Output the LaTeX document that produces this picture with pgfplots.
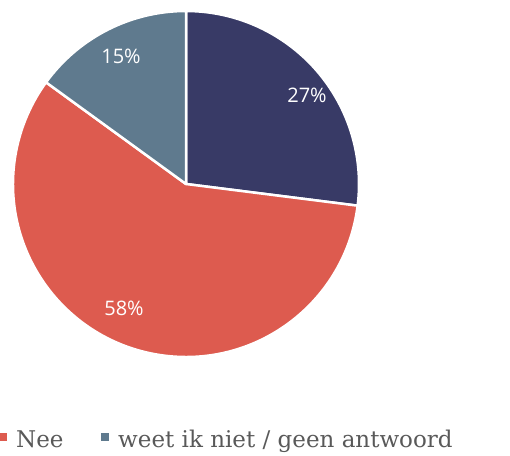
\documentclass[border=0pt]{standalone}
\usepackage{pgfplots}
\usepackage{pgfplotstable}
\pgfplotsset{compat=1.18}
\usepackage{fontspec}
\setmainfont{Open Sans}
\newfontfamily\legfont{DejaVu Serif}
\definecolor{cNavy}{HTML}{383A66}
\definecolor{cRed}{HTML}{DD5B4F}
\definecolor{cSlate}{HTML}{5F7A8E}
\definecolor{cText}{HTML}{595959}
\pgfplotstableread{
label value
Ja 27
Nee 58
Weet 15
}\piedata
\begin{document}
\begin{tikzpicture}
\pgfplotstablegetelem{0}{value}\of\piedata \let\va\pgfplotsretval
\pgfplotstablegetelem{1}{value}\of\piedata \let\vb\pgfplotsretval
\pgfplotstablegetelem{2}{value}\of\piedata \let\vc\pgfplotsretval
\pgfmathsetmacro{\aA}{90}
\pgfmathsetmacro{\aB}{90-3.6*\va}
\pgfmathsetmacro{\aC}{\aB-3.6*\vb}
\pgfmathsetmacro{\aD}{\aC-3.6*\vc}
\begin{axis}[
  x=1pt, y=1pt, xmin=0, xmax=510, ymin=0, ymax=455,
  hide axis, clip=false, anchor=origin, at={(0,0)},
]
\addplot[draw=none] coordinates {(0,0) (510,455)};
\fill[cNavy, draw=white, line width=2.5pt, line join=round] (axis cs:186,271) -- ++(\aA:173pt) arc[start angle=\aA, end angle=\aB, radius=173pt] -- cycle;
\fill[cRed, draw=white, line width=2.5pt, line join=round] (axis cs:186,271) -- ++(\aB:173pt) arc[start angle=\aB, end angle=\aC, radius=173pt] -- cycle;
\fill[cSlate, draw=white, line width=2.5pt, line join=round] (axis cs:186,271) -- ++(\aC:173pt) arc[start angle=\aC, end angle=\aD, radius=173pt] -- cycle;
\node[white, font=\fontsize{20}{24}\selectfont] at (axis cs:307,360) {\va\%};
\node[white, font=\fontsize{20}{24}\selectfont] at (axis cs:124,147) {\vb\%};
\node[white, font=\fontsize{20}{24}\selectfont] at (axis cs:121,399) {\vc\%};
% legend
\fill[cRed] (axis cs:0,14) rectangle (axis cs:7,22);
\node[anchor=base west, text=cText, font=\legfont\fontsize{23}{27}\selectfont, inner sep=0pt] at (axis cs:16,8) {Nee};
\fill[cSlate] (axis cs:101,14) rectangle (axis cs:109,22);
\node[anchor=base west, text=cText, font=\legfont\fontsize{23}{27}\selectfont, inner sep=0pt] at (axis cs:118,8) {weet ik niet / geen antwoord};
\end{axis}
\useasboundingbox (0,0) rectangle (510pt,455pt);
\end{tikzpicture}
\end{document}
